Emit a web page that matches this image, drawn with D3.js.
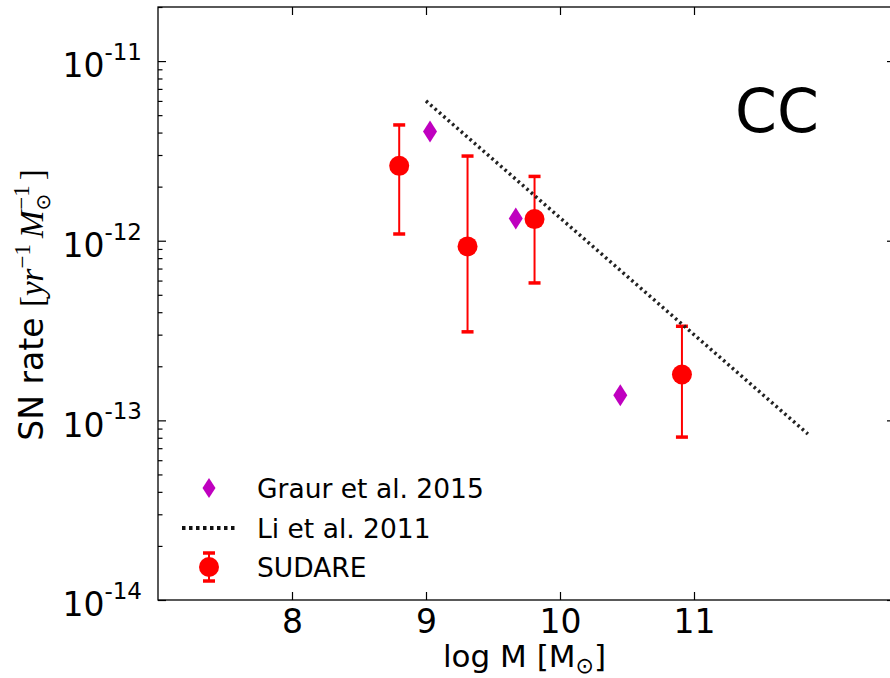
<!DOCTYPE html>
<html><head><meta charset="utf-8">
<script src="https://cdn.jsdelivr.net/npm/d3@7/dist/d3.min.js"></script>
<style>
body{margin:0;background:#fff}
svg{display:block}
text{font-family:"DejaVu Sans",sans-serif;fill:#000}
.math{font-family:"Liberation Serif","DejaVu Serif",serif}
</style>
</head><body>
<svg id="chart" width="890" height="678"></svg>
<script>
// ---- data ----
const sudareLogM    = [8.80, 9.31, 9.81, 10.91];
const sudareRate    = [2.61e-12, 9.3e-13, 1.32e-12, 1.80e-13];
const sudareErrHigh = [4.41e-12, 2.96e-12, 2.28e-12, 3.34e-13];
const sudareErrLow  = [1.09e-12, 3.11e-13, 5.82e-13, 8.07e-14];
const graurLogM = [9.03, 9.67, 10.45];
const graurRate = [4.05e-12, 1.33e-12, 1.38e-13];
const liLogM = [9.0, 11.85];
const liRate = [6.0e-12, 8.4e-14];
const xTicks = [8, 9, 10, 11];
const yTickExps = [-14, -13, -12, -11];
const legendLabels = ["Graur et al. 2015", "Li et al. 2011", "SUDARE"];
const panelLabel = "CC";

// ---- layout ----
const L = 158, R = 895, T = 7, B = 600;
const svg = d3.select("#chart");
const x = d3.scaleLinear().domain([7, 12.5]).range([L, R]);
const y = d3.scaleLog().domain([1e-14, 2e-11]).range([B, T]);

const majors = yTickExps.map(e => Math.pow(10, e));
const minors = [];
yTickExps.forEach(e => { for (let k = 2; k <= 9; k++) { const v = k * Math.pow(10, e); if (v <= 2e-11) minors.push(v); } });

const axisStyle = g => { g.select(".domain").remove(); g.selectAll(".tick line").attr("stroke", "#000").attr("stroke-width", 1.2); };

// bottom axis
svg.append("g").attr("transform", `translate(0,${B})`)
  .call(d3.axisBottom(x).tickValues(xTicks).tickSize(-8).tickPadding(10).tickFormat(d3.format("d")))
  .call(axisStyle)
  .call(g => g.selectAll(".tick text").attr("font-size", 33).attr("font-family", "DejaVu Sans").attr("fill", "#000"));
// top axis
svg.append("g").attr("transform", `translate(0,${T})`)
  .call(d3.axisTop(x).tickValues(xTicks).tickSize(-8).tickFormat(""))
  .call(axisStyle);
// left axis majors
const leftMaj = svg.append("g").attr("transform", `translate(${L},0)`)
  .call(d3.axisLeft(y).tickValues(majors).tickSize(-8).tickFormat(""))
  .call(axisStyle);
leftMaj.selectAll(".tick").each(function(d) {
  const t = d3.select(this).append("text").attr("x", -16).attr("y", 15.7)
    .attr("text-anchor", "end").attr("font-size", 33).attr("fill", "#000");
  t.append("tspan").text("10");
  t.append("tspan").attr("font-size", 23).attr("dy", -17.4).text(String(Math.round(Math.log10(d))));
});
// left minors
svg.append("g").attr("transform", `translate(${L},0)`)
  .call(d3.axisLeft(y).tickValues(minors).tickSize(-4.5).tickFormat(""))
  .call(axisStyle);
// right axis majors
svg.append("g").attr("transform", `translate(${R},0)`)
  .call(d3.axisRight(y).tickValues(majors).tickSize(-8).tickFormat(""))
  .call(axisStyle);

// spines
svg.append("rect").attr("x", L).attr("y", T).attr("width", R - L).attr("height", B - T)
  .attr("fill", "none").attr("stroke", "#000").attr("stroke-width", 1.3);

// axis labels
const xl = svg.append("text").attr("x", (L + R) / 2 - 2).attr("y", 667).attr("text-anchor", "middle").attr("font-size", 31);
xl.append("tspan").text("log M [M");
xl.append("tspan").attr("font-size", 22).attr("dy", 6).text("\u2299");
xl.append("tspan").attr("dy", -6).text("]");

const yl = svg.append("text").attr("transform", "translate(43,305) rotate(-90)").attr("text-anchor", "middle").attr("font-size", 33);
yl.append("tspan").text("SN rate ");
yl.append("tspan").attr("class", "math").text("[");
yl.append("tspan").attr("class", "math").attr("font-style", "italic").text("yr");
yl.append("tspan").attr("class", "math").attr("font-size", 23).attr("dy", -13).text("\u22121");
yl.append("tspan").attr("class", "math").attr("font-style", "italic").attr("dx", 6).attr("dy", 13).text("M");
yl.append("tspan").attr("font-size", 20).attr("dy", 7).text("\u2299");
yl.append("tspan").attr("class", "math").attr("font-size", 23).attr("dx", -16).attr("dy", -21).text("\u22121");
yl.append("tspan").attr("class", "math").attr("dx", 5).attr("dy", 14).text("]");

// panel label
svg.append("text").attr("x", 735).attr("y", 132).attr("font-size", 60).text(panelLabel);

// ---- SUDARE error bars ----
const red = "#ff0000", mag = "#bf00bf";
const sud = sudareLogM.map((m, i) => ({m, r: sudareRate[i], hi: sudareErrHigh[i], lo: sudareErrLow[i]}));
const eb = svg.append("g");
eb.selectAll("line.v").data(sud).join("line").attr("class", "v")
  .attr("x1", d => x(d.m)).attr("x2", d => x(d.m)).attr("y1", d => y(d.hi)).attr("y2", d => y(d.lo))
  .attr("stroke", red).attr("stroke-width", 2);
eb.selectAll("line.ch").data(sud).join("line").attr("class", "ch")
  .attr("x1", d => x(d.m) - 6).attr("x2", d => x(d.m) + 6).attr("y1", d => y(d.hi)).attr("y2", d => y(d.hi))
  .attr("stroke", red).attr("stroke-width", 3.5);
eb.selectAll("line.cl").data(sud).join("line").attr("class", "cl")
  .attr("x1", d => x(d.m) - 6).attr("x2", d => x(d.m) + 6).attr("y1", d => y(d.lo)).attr("y2", d => y(d.lo))
  .attr("stroke", red).attr("stroke-width", 3.5);
eb.selectAll("circle").data(sud).join("circle")
  .attr("cx", d => x(d.m)).attr("cy", d => y(d.r)).attr("r", 10).attr("fill", red);

// ---- Graur diamonds ----
const diamond = "M0,-11L7,0L0,11L-7,0Z";
svg.append("g").selectAll("path").data(graurLogM.map((m, i) => ({m, r: graurRate[i]}))).join("path")
  .attr("d", diamond).attr("transform", d => `translate(${x(d.m)},${y(d.r)})`).attr("fill", mag);

// ---- Li et al. line ----
svg.append("path").datum(liLogM.map((m, i) => [m, liRate[i]]))
  .attr("d", d3.line().x(d => x(d[0])).y(d => y(d[1])))
  .attr("fill", "none").attr("stroke", "#222").attr("stroke-width", 3.5).attr("stroke-dasharray", "2.5,3.3");

// ---- legend ----
const lg = svg.append("g");
const rows = [488, 528, 567];
lg.append("path").attr("d", "M0,-10L6.5,0L0,10L-6.5,0Z").attr("transform", `translate(209,${rows[0]})`).attr("fill", mag);
lg.append("line").attr("x1", 182).attr("x2", 236).attr("y1", rows[1]).attr("y2", rows[1])
  .attr("stroke", "#111").attr("stroke-width", 4).attr("stroke-dasharray", "3.5,3.5");
lg.append("line").attr("x1", 209).attr("x2", 209).attr("y1", rows[2] - 14).attr("y2", rows[2] + 14).attr("stroke", red).attr("stroke-width", 2);
lg.append("line").attr("x1", 203).attr("x2", 215).attr("y1", rows[2] - 14).attr("y2", rows[2] - 14).attr("stroke", red).attr("stroke-width", 3.5);
lg.append("line").attr("x1", 203).attr("x2", 215).attr("y1", rows[2] + 14).attr("y2", rows[2] + 14).attr("stroke", red).attr("stroke-width", 3.5);
lg.append("circle").attr("cx", 209).attr("cy", rows[2]).attr("r", 10).attr("fill", red);
lg.selectAll("text").data(legendLabels).join("text")
  .attr("x", 257).attr("y", (d, i) => rows[i] + 9.5).attr("font-size", 26.5).text(d => d);
</script>
</body></html>
